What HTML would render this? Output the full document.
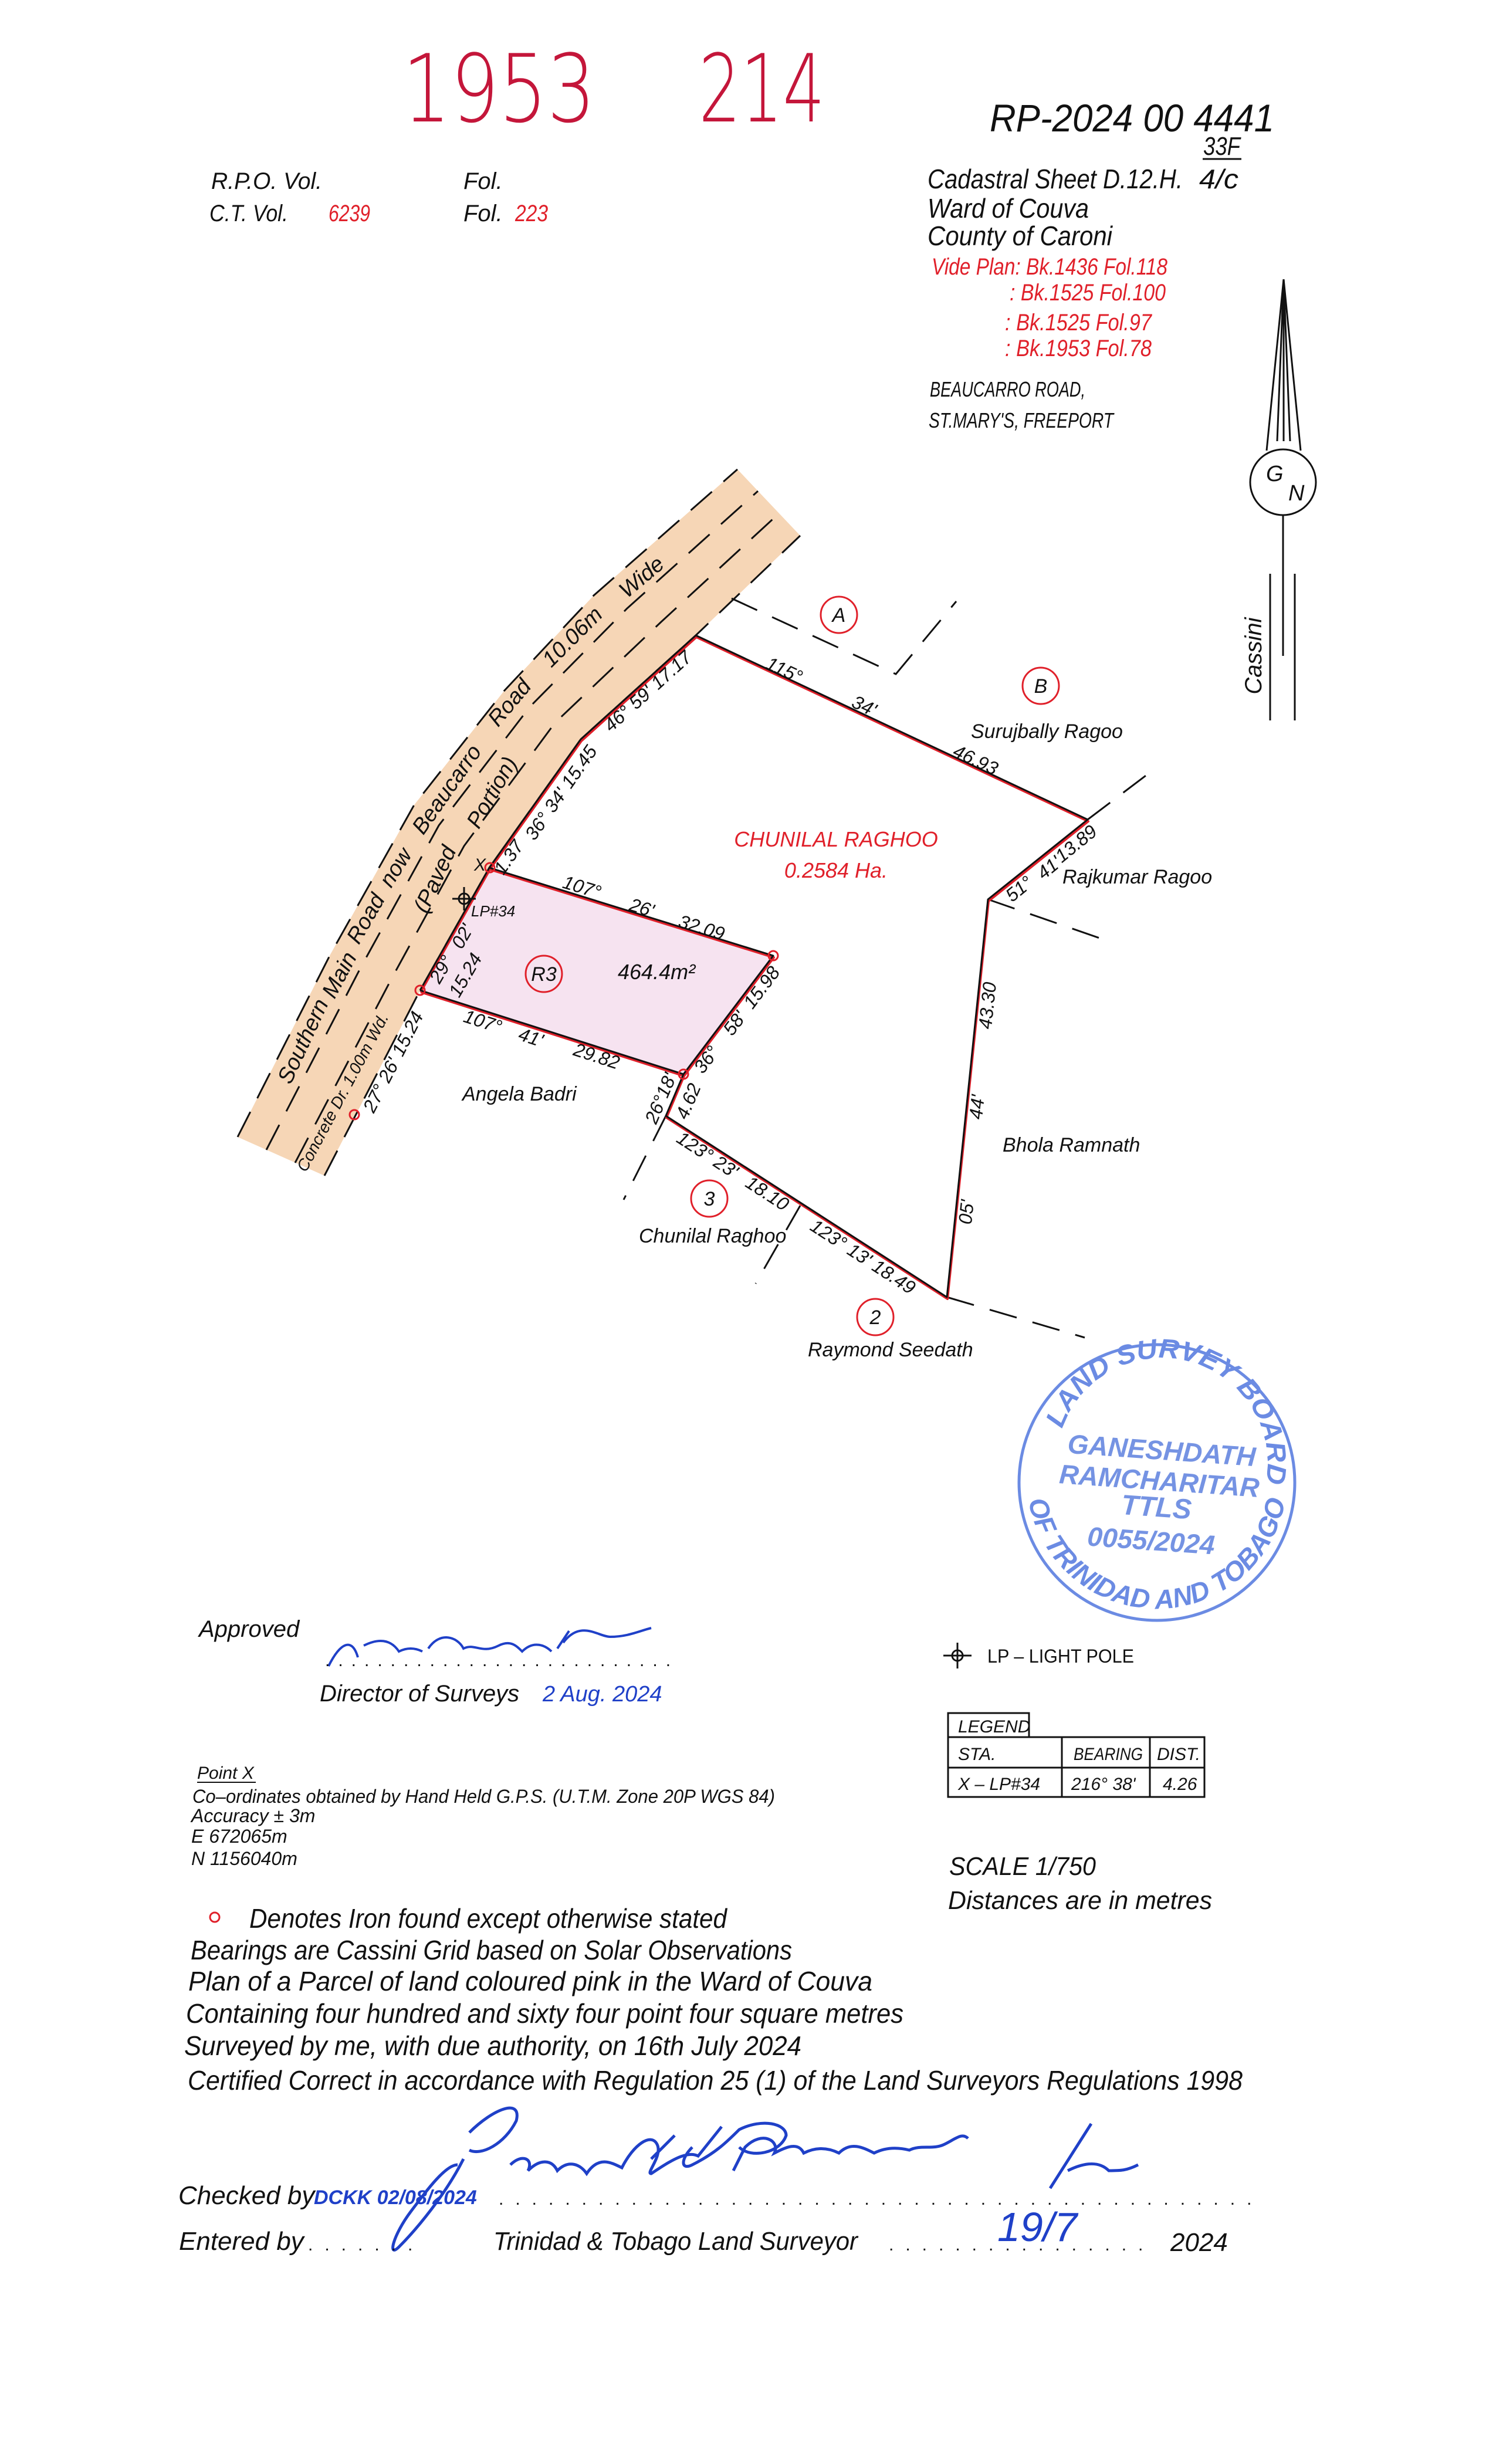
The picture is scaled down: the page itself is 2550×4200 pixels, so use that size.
<!DOCTYPE html>
<html><head><meta charset="utf-8"><style>
html,body{margin:0;padding:0;background:#fff}
svg{display:block}
text{font-family:"Liberation Sans",sans-serif;font-style:italic}
.b{fill:#111}
.r{fill:#e0202a}
.lab{font-size:32px;fill:#111}
.up{font-style:normal}
</style></head><body>
<svg width="2550" height="4200" viewBox="0 0 2550 4200" xmlns="http://www.w3.org/2000/svg">
<rect width="2550" height="4200" fill="#fff"/>

<text x="686" y="207" font-size="160" fill="#c4163a" style="font-style:normal;font-family:'DejaVu Sans ExtraLight','DejaVu Sans',sans-serif;font-weight:200" textLength="329" lengthAdjust="spacingAndGlyphs">1953</text>
<text x="1191" y="207" font-size="160" fill="#c4163a" style="font-style:normal;font-family:'DejaVu Sans ExtraLight','DejaVu Sans',sans-serif;font-weight:200" textLength="215" lengthAdjust="spacingAndGlyphs">214</text>
<text x="1687" y="224" font-size="66" fill="#111" textLength="485" lengthAdjust="spacingAndGlyphs">RP-2024 00 4441</text>

<text x="360" y="322" font-size="40" class="b" textLength="189" lengthAdjust="spacingAndGlyphs">R.P.O.  Vol.</text>
<text x="790" y="322" font-size="40" class="b">Fol.</text>
<text x="357" y="377" font-size="40" class="b" textLength="134" lengthAdjust="spacingAndGlyphs">C.T.  Vol.</text>
<text x="560" y="377" font-size="40" class="r" textLength="71" lengthAdjust="spacingAndGlyphs">6239</text>
<text x="790" y="377" font-size="40" class="b">Fol.</text>
<text x="878" y="377" font-size="40" class="r" textLength="56" lengthAdjust="spacingAndGlyphs">223</text>

<text x="2051" y="264" font-size="44" class="b" textLength="63" lengthAdjust="spacingAndGlyphs">33F</text>
<line x1="2050" y1="271" x2="2116" y2="271" stroke="#111" stroke-width="3"/>
<text x="1581" y="321" font-size="46" class="b" textLength="435" lengthAdjust="spacingAndGlyphs">Cadastral  Sheet  D.12.H.</text>
<text x="2044" y="321" font-size="46" class="b" textLength="67" lengthAdjust="spacingAndGlyphs">4/c</text>
<text x="1581" y="371" font-size="46" class="b" textLength="275" lengthAdjust="spacingAndGlyphs">Ward  of  Couva</text>
<text x="1581" y="418" font-size="46" class="b" textLength="315" lengthAdjust="spacingAndGlyphs">County  of  Caroni</text>
<text x="1588" y="468" font-size="40" class="r" textLength="402" lengthAdjust="spacingAndGlyphs">Vide  Plan:  Bk.1436  Fol.118</text>
<text x="1721" y="512" font-size="40" class="r" textLength="266" lengthAdjust="spacingAndGlyphs">:  Bk.1525  Fol.100</text>
<text x="1713" y="563" font-size="40" class="r" textLength="250" lengthAdjust="spacingAndGlyphs">:  Bk.1525  Fol.97</text>
<text x="1713" y="607" font-size="40" class="r" textLength="250" lengthAdjust="spacingAndGlyphs">:  Bk.1953  Fol.78</text>
<text x="1585" y="676" font-size="36" class="b" textLength="265" lengthAdjust="spacingAndGlyphs">BEAUCARRO  ROAD,</text>
<text x="1583" y="729" font-size="36" class="b" textLength="315" lengthAdjust="spacingAndGlyphs">ST.MARY'S,  FREEPORT</text>

<g stroke="#111" stroke-width="3" fill="none">
<line x1="2188" y1="476" x2="2159" y2="768"/>
<line x1="2188" y1="476" x2="2217" y2="768"/>
<line x1="2188" y1="476" x2="2177" y2="752"/>
<line x1="2188" y1="476" x2="2199" y2="752"/>
<line x1="2188" y1="476" x2="2188" y2="752"/>
<circle cx="2187" cy="822" r="56"/>
<line x1="2187" y1="878" x2="2187" y2="1118"/>
<line x1="2165" y1="978" x2="2165" y2="1228"/>
<line x1="2207" y1="978" x2="2207" y2="1228"/>
</g>
<text x="2158" y="820" font-size="38" class="b">G</text>
<text x="2196" y="853" font-size="38" class="b">N</text>
<text transform="translate(2150,1118) rotate(-90)" text-anchor="middle" font-size="40" class="b">Cassini</text>

<polygon points="405,1938 563,1627 706,1372 859,1178 1012,1015 1257,800 1364,913 1186,1083 990,1260 834,1479 716,1688 553,2004" fill="#f6d6b6"/>
<g stroke="#111" stroke-width="3" fill="none" stroke-dasharray="48,26">
<polyline points="405,1938 563,1627 706,1372 859,1178 1012,1015 1257,800"/>
<polyline points="454,1960 616,1647 748,1407 903,1205 1069,1037 1292,837"/>
<polyline points="503,1982 668,1667 791,1442 946,1232 1127,1060 1328,875"/>
<polyline points="553,2004 716,1688 834,1479 990,1260 1186,1083 1364,913"/>
</g>

<polygon points="834,1479 1318,1629 1165,1831 716,1688" fill="#f6e3f0"/>

<g stroke="#111" stroke-width="3" fill="none" stroke-dasharray="48,28">
<polyline points="1247,1020 1527,1149 1630,1025"/>
<line x1="1854" y1="1397" x2="1961" y2="1316"/>
<line x1="1684" y1="1533" x2="1880" y2="1601"/>
<line x1="1135" y1="1902" x2="1063" y2="2045"/>
<line x1="1364" y1="2055" x2="1288" y2="2188"/>
<line x1="1614" y1="2211" x2="1849" y2="2280"/>
</g>

<g fill="none" stroke="#e0202a" stroke-width="4" stroke-linejoin="round" transform="translate(1,3)">
<polyline points="716,1688 834,1479 990,1260 1186,1083 1854,1397 1684,1533 1614,2211 1135,1902 1165,1831 716,1688"/>
<polyline points="834,1479 1318,1629 1165,1831"/>
</g>
<g fill="none" stroke="#111" stroke-width="3" stroke-linejoin="round">
<polyline points="716,1688 834,1479 990,1260 1186,1083 1854,1397 1684,1533 1614,2211 1135,1902 1165,1831 716,1688"/>
<polyline points="834,1479 1318,1629 1165,1831"/>
</g>

<g fill="none" stroke="#e0202a" stroke-width="3">
<circle cx="835" cy="1479" r="8"/><circle cx="716" cy="1688" r="8"/>
<circle cx="1318" cy="1629" r="8"/><circle cx="1165" cy="1831" r="8"/>
<circle cx="604" cy="1900" r="8"/>
</g>
<g stroke="#111" stroke-width="3" fill="none"><circle cx="791" cy="1532" r="9"/><line x1="771" y1="1532" x2="811" y2="1532"/><line x1="791" y1="1512" x2="791" y2="1552"/></g>
<text x="803" y="1562" font-size="26" class="b">LP#34</text>
<text x="808" y="1484" font-size="30" class="b">X</text>

<g fill="none" stroke="#e0202a" stroke-width="3">
<circle cx="1430" cy="1048" r="31"/><circle cx="1774" cy="1169" r="31"/>
<circle cx="1209" cy="2043" r="31"/><circle cx="1492" cy="2245" r="31"/>
<circle cx="927" cy="1660" r="31"/>
</g>
<g font-size="34" class="b" text-anchor="middle">
<text x="1430" y="1060">A</text><text x="1774" y="1181">B</text>
<text x="1209" y="2055">3</text><text x="1492" y="2257">2</text>
<text x="927" y="1672">R3</text>
</g>

<g font-size="34" class="b">
<text x="1655" y="1258">Surujbally  Ragoo</text>
<text x="1811" y="1506">Rajkumar  Ragoo</text>
<text x="1709" y="1963">Bhola  Ramnath</text>
<text x="1089" y="2118">Chunilal  Raghoo</text>
<text x="1377" y="2312">Raymond  Seedath</text>
<text x="788" y="1876">Angela  Badri</text>
<text x="1053" y="1669" font-size="36">464.4m²</text>
</g>
<text x="1425" y="1443" font-size="36" class="r" text-anchor="middle">CHUNILAL  RAGHOO</text>
<text x="1425" y="1496" font-size="36" class="r" text-anchor="middle">0.2584  Ha.</text>

<g class="lab" text-anchor="middle" dominant-baseline="central">
<text transform="translate(1337,1142) rotate(25)">115°</text>
<text transform="translate(1473,1203) rotate(25)">34'</text>
<text transform="translate(1663,1295) rotate(25)">46.93</text>
<text transform="translate(1737,1515) rotate(-39)">51°</text>
<text transform="translate(1788,1479) rotate(-39)">41'</text>
<text transform="translate(1834,1438) rotate(-39)">13.89</text>
<text transform="translate(1683,1714) rotate(-84)">43.30</text>
<text transform="translate(1665,1887) rotate(-84)">44'</text>
<text transform="translate(1647,2066) rotate(-84)">05'</text>
<text transform="translate(1206,1968) rotate(33)">123° 23'</text>
<text transform="translate(1308,2034) rotate(33)">18.10</text>
<text transform="translate(1471,2142) rotate(33)">123° 13' 18.49</text>
<text transform="translate(1126,1872) rotate(-67)">26°18'</text>
<text transform="translate(1173,1877) rotate(-67)">4.62</text>
<text transform="translate(1204,1806) rotate(-53)">36°</text>
<text transform="translate(1252,1744) rotate(-53)">58'</text>
<text transform="translate(1298,1683) rotate(-53)">15.98</text>
<text transform="translate(992,1512) rotate(17)">107°</text>
<text transform="translate(1094,1547) rotate(17)">26'</text>
<text transform="translate(1196,1581) rotate(17)">32.09</text>
<text transform="translate(823,1741) rotate(18)">107°</text>
<text transform="translate(905,1768) rotate(18)">41'</text>
<text transform="translate(1017,1800) rotate(18)">29.82</text>
<text transform="translate(752,1652) rotate(-60)">29°</text>
<text transform="translate(788,1596) rotate(-60)">02'</text>
<text transform="translate(793,1662) rotate(-60)">15.24</text>
<text transform="translate(867,1461) rotate(-55)">1.37</text>
<text transform="translate(956,1351) rotate(-55)">36° 34' 15.45</text>
<text transform="translate(1104,1178) rotate(-42)">46° 59' 17.17</text>
<text transform="translate(670,1810) rotate(-63)">27° 26' 15.24</text>
<text transform="translate(584,1862) rotate(-62)" font-size="28">Concrete Dr. 1.00m Wd.</text>
</g>
<g font-size="38" class="b" text-anchor="middle" dominant-baseline="central">
<text transform="translate(517,1775) rotate(-65)">Southern</text>
<text transform="translate(579,1662) rotate(-62)">Main</text>
<text transform="translate(624,1566) rotate(-60)">Road</text>
<text transform="translate(675,1479) rotate(-58)">now</text>
<text transform="translate(762,1346) rotate(-55)">Beaucarro</text>
<text transform="translate(869,1198) rotate(-50)">Road</text>
<text transform="translate(976,1086) rotate(-45)">10.06m</text>
<text transform="translate(1094,984) rotate(-40)">Wide</text>
<text transform="translate(742,1499) rotate(-65)">(Paved</text>
<text transform="translate(839,1351) rotate(-60)">Portion)</text>
</g>

<circle cx="1972" cy="2527" r="235" stroke="#6b8be3" fill="none" stroke-width="5"/>
<defs>
<path id="tp" d="M1803,2465 A180,180 0 1 1 2149,2558"/>
<path id="bp" d="M1750,2520 A222,222 0 1 0 2194,2520"/>
</defs>
<g fill="#6b8be3" style="font-family:'Liberation Serif',serif;font-style:normal;font-weight:bold">
<text font-size="46" textLength="540" lengthAdjust="spacingAndGlyphs"><textPath href="#tp" startOffset="50%" text-anchor="middle">LAND SURVEY BOARD</textPath></text>
<text font-size="46"><textPath href="#bp" startOffset="50%" text-anchor="middle">OF TRINIDAD AND TOBAGO</textPath></text>
</g>
<g fill="#7593e3" style="font-family:'Liberation Sans',sans-serif;font-style:normal;font-weight:bold" text-anchor="middle">
<text transform="translate(1979,2488) rotate(4)" font-size="46">GANESHDATH</text>
<text transform="translate(1975,2540) rotate(4)" font-size="46">RAMCHARITAR</text>
<text transform="translate(1970,2585) rotate(4)" font-size="48">TTLS</text>
<text transform="translate(1961,2642) rotate(4)" font-size="46">0055/2024</text>
</g>

<g stroke="#111" stroke-width="3" fill="none"><circle cx="1632" cy="2822" r="9"/><line x1="1608" y1="2822" x2="1656" y2="2822"/><line x1="1632" y1="2800" x2="1632" y2="2844"/></g>
<text x="1683" y="2834" font-size="32" class="b up" textLength="250" lengthAdjust="spacingAndGlyphs">LP  –  LIGHT  POLE</text>
<g stroke="#111" stroke-width="3" fill="none">
<rect x="1616" y="2920" width="138" height="41"/>
<rect x="1616" y="2961" width="437" height="102"/>
<line x1="1616" y1="3013" x2="2053" y2="3013"/>
<line x1="1810" y1="2961" x2="1810" y2="3063"/>
<line x1="1960" y1="2961" x2="1960" y2="3063"/>
</g>
<g font-size="30" class="b up">
<text x="1633" y="2953">LEGEND</text>
<text x="1633" y="3000">STA.</text>
<text x="1830" y="3000" textLength="118" lengthAdjust="spacingAndGlyphs">BEARING</text>
<text x="1972" y="3000">DIST.</text>
<text x="1633" y="3051">X  –  LP#34</text>
<text x="1826" y="3051">216°  38'</text>
<text x="1982" y="3051">4.26</text>
</g>
<text x="1618" y="3196" font-size="44" class="b" textLength="250" lengthAdjust="spacingAndGlyphs">SCALE  1/750</text>
<text x="1616" y="3254" font-size="44" class="b" textLength="450" lengthAdjust="spacingAndGlyphs">Distances  are  in  metres</text>

<text x="339" y="2790" font-size="40" class="b">Approved</text>
<path d="M560,2840 C580,2800 600,2790 610,2825 M620,2805 q40,-20 60,10 q20,-10 40,0 M730,2810 c20,-30 50,-20 60,0 c20,-10 30,10 60,-5 c20,-10 30,0 40,10 c20,-20 40,-10 50,0 M950,2810 l20,-30 M960,2800 c30,-40 60,-10 80,-10 c30,0 50,-10 70,-15" stroke="#1f40c8" stroke-width="4" fill="none"/>
<text x="554" y="2840" font-size="30" fill="#111" style="font-style:normal;letter-spacing:14px">...........................</text>
<text x="545" y="2900" font-size="40" class="b">Director  of  Surveys</text>
<text x="925" y="2900" font-size="38" fill="#1f40c8">2 Aug. 2024</text>

<text x="336" y="3032" font-size="30" class="b">Point  X</text>
<line x1="336" y1="3038" x2="436" y2="3038" stroke="#111" stroke-width="2"/>
<text x="328" y="3073" font-size="32" class="b" textLength="993" lengthAdjust="spacingAndGlyphs">Co–ordinates  obtained  by  Hand  Held  G.P.S.  (U.T.M.  Zone  20P  WGS  84)</text>
<text x="326" y="3106" font-size="32" class="b">Accuracy  ±  3m</text>
<text x="326" y="3141" font-size="32" class="b">E  672065m</text>
<text x="326" y="3179" font-size="32" class="b">N  1156040m</text>

<circle cx="366" cy="3268" r="8" fill="none" stroke="#e0202a" stroke-width="3"/>
<g font-size="46" class="b">
<text x="425" y="3286" textLength="814" lengthAdjust="spacingAndGlyphs">Denotes  Iron  found  except  otherwise  stated</text>
<text x="325" y="3340" textLength="1025" lengthAdjust="spacingAndGlyphs">Bearings  are  Cassini  Grid  based  on  Solar  Observations</text>
<text x="321" y="3393" textLength="1166" lengthAdjust="spacingAndGlyphs">Plan  of  a  Parcel  of  land  coloured  pink  in  the  Ward  of  Couva</text>
<text x="317" y="3448" textLength="1223" lengthAdjust="spacingAndGlyphs">Containing  four  hundred  and  sixty  four  point  four  square  metres</text>
<text x="314" y="3503" textLength="1052" lengthAdjust="spacingAndGlyphs">Surveyed  by  me,  with  due  authority,  on  16th  July  2024</text>
<text x="320" y="3562" textLength="1798" lengthAdjust="spacingAndGlyphs">Certified  Correct  in  accordance  with  Regulation  25  (1)  of  the  Land  Surveyors  Regulations  1998</text>
</g>

<path d="M800,3635 c40,-40 90,-60 80,-20 c-20,40 -60,60 -80,50 M790,3680 c-30,60 -80,120 -110,150 c-20,20 -10,-20 20,-60 c30,-40 60,-80 80,-80 M870,3690 c20,-20 40,-10 30,10 c20,-20 40,-20 50,0 c20,-20 40,-10 50,5 c20,-30 40,-20 60,-10 c20,-40 50,-60 60,-40 c10,20 -20,50 -10,50 c30,-20 60,-40 80,-30 l40,-50 M1110,3680 l40,-40 M1180,3660 c-20,20 -20,40 0,30 c40,-20 60,-40 80,-60 c40,-20 80,-10 80,10 c-10,30 -60,40 -80,20 M1250,3700 l20,-40 c30,-30 60,-10 50,10 c20,-10 40,-20 50,0 c20,-10 40,-10 60,0 c20,-20 40,-10 60,0 c20,-10 40,-10 60,-5 c20,-10 40,0 60,-10 c20,-10 30,-20 40,-10 M1860,3620 l-70,110 M1820,3700 c20,-10 50,-20 70,0 c20,0 30,0 50,-10" stroke="#1f40c8" stroke-width="5" fill="none"/>

<text x="304" y="3757" font-size="44" class="b">Checked  by</text>
<text x="535" y="3757" font-size="34" fill="#1f40c8" style="font-weight:bold">DCKK 02/08/2024</text>
<text x="850" y="3758" font-size="30" fill="#111" style="font-style:normal;letter-spacing:20px">..............................................</text>
<text x="305" y="3835" font-size="44" class="b">Entered  by</text>
<text x="525" y="3836" font-size="30" fill="#111" style="font-style:normal;letter-spacing:20px">.......</text>
<text x="841" y="3835" font-size="44" class="b" textLength="621" lengthAdjust="spacingAndGlyphs">Trinidad  &amp;  Tobago  Land  Surveyor</text>
<text x="1515" y="3836" font-size="30" fill="#111" style="font-style:normal;letter-spacing:20px">................</text>
<text x="1995" y="3837" font-size="44" class="b">2024</text>
<text x="1700" y="3820" font-size="70" fill="#1f40c8">19/7</text>
</svg>
</body></html>
